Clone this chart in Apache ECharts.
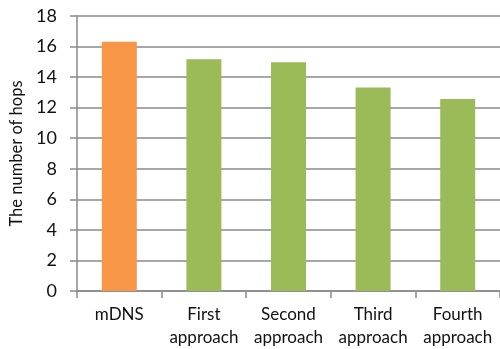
<!DOCTYPE html>
<html>
<head>
<meta charset="utf-8">
<script src="https://cdn.jsdelivr.net/npm/echarts@6/dist/echarts.min.js"></script>
<style>
  html, body { margin: 0; padding: 0; background: #fff; }
  #chart { width: 500px; height: 349px; }
</style>
</head>
<body>
<div id="chart"></div>
<script>
// Average hop counts per discovery approach
const categories = ['mDNS', 'First\napproach', 'Second\napproach', 'Third\napproach', 'Fourth\napproach'];
const hops = [16.32, 15.17, 14.98, 13.32, 12.56];
const barColors = ['#F79646', '#9BBB59', '#9BBB59', '#9BBB59', '#9BBB59'];
const yTicks = { min: 0, max: 18, interval: 2 };

const font = 'Lato, "Open Sans", sans-serif';
const chart = echarts.init(document.getElementById('chart'), null, { renderer: 'canvas' });

chart.setOption({
  animation: false,
  grid: { left: 77, top: 16, width: 430, height: 278, containLabel: false },
  xAxis: {
    type: 'category',
    data: categories,
    axisLine: { lineStyle: { color: '#8a8a8a', width: 1.5 } },
    axisTick: { show: true, length: 7, alignWithLabel: false, lineStyle: { color: '#8a8a8a', width: 1.5 } },
    axisLabel: { color: '#111', fontFamily: font, fontSize: 17, lineHeight: 23, margin: 12, interval: 0 }
  },
  yAxis: {
    type: 'value',
    min: yTicks.min,
    max: yTicks.max,
    interval: yTicks.interval,
    name: 'The number of hops',
    nameLocation: 'middle',
    nameGap: 47,
    nameTextStyle: { color: '#111', fontFamily: font, fontSize: 16.5 },
    axisLine: { show: true, lineStyle: { color: '#8a8a8a', width: 1.5 } },
    axisTick: { show: true, length: 7, lineStyle: { color: '#8a8a8a', width: 1.5 } },
    axisLabel: { color: '#111', fontFamily: font, fontSize: 18, margin: 20 },
    splitLine: { show: true, lineStyle: { color: '#8a8a8a', width: 1.5 } }
  },
  series: [{
    type: 'bar',
    data: hops.map((v, i) => ({ value: v, itemStyle: { color: barColors[i] } })),
    barWidth: 35
  }]
});
</script>
</body>
</html>
